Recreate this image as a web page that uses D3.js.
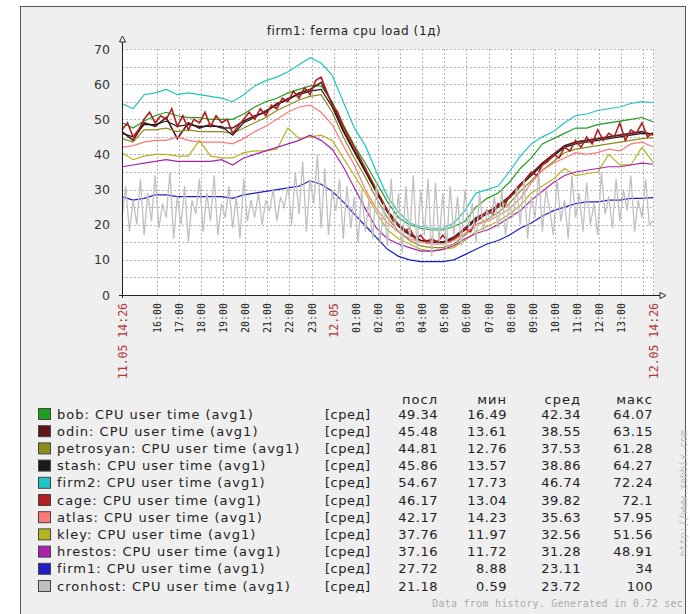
<!DOCTYPE html>
<html>
<head>
<meta charset="utf-8">
<script src="https://cdn.jsdelivr.net/npm/d3@7"></script>
<style>
  body { margin: 0; background: #fff; }
  svg { display: block; }
</style>
</head>
<body>
<svg id="chart" width="690" height="614"></svg>
<script>
// --- data, 11.05 14:26 .. 12.05 14:26 ---
const hosts = ["bob", "odin", "petrosyan", "stash", "firm2", "cage", "atlas", "kley", "hrestos", "firm1", "cronhost"];
const colors = ["#1e9e1e", "#5c1616", "#8c8c1c", "#1a1a1a", "#1ec4c4", "#b41e1e", "#ff7878", "#b4b41e", "#aa22aa", "#1e1ec8", "#c0c0c0"];
const lastVals = ["49.34", "45.48", "44.81", "45.86", "54.67", "46.17", "42.17", "37.76", "37.16", "27.72", "21.18"];
const minVals  = ["16.49", "13.61", "12.76", "13.57", "17.73", "13.04", "14.23", "11.97", "11.72", "8.88", "0.59"];
const avgVals  = ["42.34", "38.55", "37.53", "38.86", "46.74", "39.82", "35.63", "32.56", "31.28", "23.11", "23.72"];
const maxVals  = ["64.07", "63.15", "61.28", "64.27", "72.24", "72.1", "57.95", "51.56", "48.91", "34", "100"];
const yTicks = [0, 10, 20, 30, 40, 50, 60, 70];

// every 30 min
const bob = [49, 47.5, 49.5, 51, 52, 51, 50.5, 50.5, 50, 50, 50, 51.5, 53.5,
  55, 56, 57.5, 58.5, 59.5, 59.5, 55, 48.5, 42.5, 37.5, 32, 26.5,
  22, 20, 19, 18.5, 18.5, 19.5, 21, 25, 27.5, 29, 32, 36,
  39, 43, 44.5, 46, 47.5, 47.5, 48.5, 49, 49.5, 50, 50.5, 49.3];
const odin = [46.5, 44, 49, 48, 50.5, 44.5, 49, 47.5, 48.5, 47.5, 47.5, 49.5, 51,
  52, 54.5, 55.5, 57.5, 58.5, 60.5, 54.5, 47, 41, 35.5, 29.5, 24,
  20, 17.5, 15.5, 15.5, 15, 16.5, 19, 22, 23.5, 25.5, 28, 31.5,
  34.5, 37.5, 40, 42.5, 43.5, 44, 44.5, 45, 45.5, 46, 46.5, 45.5];
const petrosyan = [44.5, 43.5, 47, 47, 47.5, 46.5, 47, 46.5, 46.5, 46.5, 46, 47.5, 49,
  50.5, 52.5, 54, 55.5, 56.5, 57, 52, 45, 39, 33.5, 27.5, 22,
  18, 15.5, 14, 13.5, 13.5, 14.5, 17, 20, 21.5, 23.5, 26, 29.5,
  32.5, 35.5, 38, 40.5, 41.5, 42, 42.5, 43, 43.5, 44, 44.5, 44.8];
const stash = [46, 45, 48.5, 48.5, 49.5, 48, 48.5, 48, 48, 48, 45.5, 49, 50.5,
  52.5, 54, 56, 57, 58, 58.5, 53.5, 46.5, 40.7, 35, 29.2, 23.5,
  19.5, 17, 15.5, 15, 15, 16, 18.5, 21.5, 23, 25, 27.5, 31,
  34, 37, 39.5, 42, 43, 43.5, 44, 44.5, 45, 45.5, 46, 45.9];
const firm2 = [54.5, 53, 57, 57.5, 58.5, 57, 57.5, 57, 56.5, 56, 55, 57, 59.5,
  61, 62, 63.5, 65.5, 67.5, 66, 62.5, 55, 47.5, 42.5, 35, 28,
  23.5, 20.5, 19.5, 19, 19, 20.5, 24, 29, 30, 31, 35, 39.5,
  43, 45, 46.5, 49, 51, 51.5, 52.5, 53, 53.5, 54.5, 55, 54.7];
const atlas = [42, 42.5, 43.5, 44, 44, 45, 44, 43.5, 43.5, 43.5, 43, 44.5, 46.5,
  48, 50, 52, 53.5, 54, 52, 48.5, 42.5, 37, 30, 24.5, 20.5,
  18, 16, 15, 14.5, 14.5, 15.5, 17.5, 20, 21, 22.5, 24.5, 27.5,
  32, 35.5, 37.5, 39, 40.5, 40, 40.5, 41.5, 41, 43, 43.5, 42.2];
const kley = [40.5, 38.5, 39.5, 40, 40, 39.5, 39.5, 44, 39.5, 39, 39, 40.5, 41,
  41, 41.5, 47.5, 44.5, 45, 45.5, 44, 39, 34, 29, 23.5, 18.5,
  16, 14.5, 13, 12.5, 13, 13.5, 15.5, 18, 19.5, 21, 23, 25.5,
  29, 31, 33, 36, 34, 34.5, 35, 40, 37, 37, 42, 37.8];
const hrestos = [36.5, 37, 37.5, 38, 38.5, 38, 38, 38, 38, 38.5, 37, 39, 40,
  41, 42, 43, 44, 45.5, 44, 41.5, 36.5, 30.5, 24.5, 19, 16,
  14.5, 13.5, 12.5, 12.5, 13, 14, 16, 17.5, 18.5, 20, 22, 24,
  27, 29.5, 32, 34, 35, 35.5, 36, 36.5, 36.5, 37, 37.5, 37.2];
const firm1 = [28, 27, 27.5, 28.5, 28.5, 28, 28, 28, 28, 28, 27.5, 28.5, 29,
  29.5, 30, 30.5, 31, 32.5, 31.5, 29.5, 26.5, 23, 19.7, 16.3, 13,
  11, 10, 9.5, 9.5, 9.5, 10, 11.5, 13, 14.5, 15.5, 17, 19,
  20.5, 22.5, 24, 25, 26, 26.5, 26.5, 27, 27, 27.5, 27.5, 27.7];
// cage is spikier, every 15 min
const cage = [47, 49, 45, 47, 50, 52, 49, 51, 50, 53, 48, 51, 47, 50, 49, 52, 48, 51, 49, 50, 46, 48, 50, 52, 50,
  53, 51, 54, 53, 56, 55, 58, 56, 59, 57, 61, 62, 58, 54, 52, 48, 45, 42, 39, 36, 33, 30, 27, 24,
  21, 20, 18, 19, 16, 17, 15, 16, 15, 17, 15, 16, 17, 19, 18, 21, 22, 24, 23, 26, 25, 28, 29, 31,
  33, 35, 34, 37, 38, 40, 39, 42, 41, 44, 42, 45, 43, 47, 44, 46, 45, 49, 44, 47, 46, 49, 45, 46.2];
// cronhost jumps all the time, every 10 min
const cronhost = [
  22, 31, 18, 27, 20, 33,  17, 29, 21, 34, 19, 26,  22, 35, 16, 28, 20, 31,
  15, 27, 23, 33, 18, 29,  21, 34, 17, 26, 22, 31,  19, 28, 16, 33, 21, 27,
  22, 29, 20, 27, 24, 30,  21, 28, 25, 31, 20, 35,  23, 38, 18, 33, 26, 40,
  19, 36, 17, 30, 24, 33,  16, 31, 19, 28, 15, 30,  18, 27, 16, 32, 15, 26,
  14, 33, 18, 29, 12, 31,  16, 34, 13, 30, 17, 33,  11, 32, 15, 29, 13, 31,
  17, 28, 14, 30, 19, 26,  15, 29, 18, 24, 21, 28,  19, 30, 17, 26, 22, 31,
  20, 33, 16, 28, 22, 35,  18, 30, 24, 17, 33, 21,  27, 16, 34, 22, 29, 18,
  32, 20, 26, 17, 35, 23,  28, 19, 33, 21, 30, 24,  34, 18, 27, 22, 33, 20,
  21.2];

const allSeries = [bob, odin, petrosyan, stash, firm2, cage, atlas, kley, hrestos, firm1, cronhost];

// --- layout ---
const margin = { top: 49, left: 122, right: 653, bottom: 295 };
const t0 = Date.UTC(2020, 4, 11, 14, 26);
const t1 = Date.UTC(2020, 4, 12, 14, 26);
const sans = "DejaVu Sans, Verdana, sans-serif";
const mono = "DejaVu Sans Mono, monospace";

const svg = d3.select("#chart");

// frame
svg.append("rect").attr("x", 20.5).attr("y", 6.5).attr("width", 665).attr("height", 620)
  .attr("fill", "#efefef").attr("stroke", "#555");

svg.append("rect").attr("x", margin.left).attr("y", margin.top)
  .attr("width", margin.right - margin.left + 1).attr("height", margin.bottom - margin.top)
  .attr("fill", "#fff");

const x = d3.scaleUtc().domain([t0, t1]).range([margin.left, margin.right]);
const y = d3.scaleLinear().domain([0, 70]).range([margin.bottom, margin.top]);

// grid
const grid = svg.append("g").attr("stroke", "#b4b4b4").attr("stroke-dasharray", "2,2")
  .attr("shape-rendering", "crispEdges");
grid.selectAll(".hg").data(d3.range(5, 71, 5)).join("line")
  .attr("x1", margin.left).attr("x2", margin.right)
  .attr("y1", d => Math.round(y(d)) + 0.5).attr("y2", d => Math.round(y(d)) + 0.5);

const hours = d3.utcHour.range(new Date(Date.UTC(2020, 4, 11, 16)), new Date(Date.UTC(2020, 4, 12, 14, 30)));
grid.selectAll(".vg").data(hours.concat([new Date(t1)])).join("line")
  .attr("y1", margin.top).attr("y2", margin.bottom)
  .attr("x1", d => Math.round(x(d)) + 0.5).attr("x2", d => Math.round(x(d)) + 0.5);

// series: sample times follow from how many readings a series has
const table = hosts.map((h, i) => {
  const vals = allSeries[i];
  const step = (t1 - t0) / (vals.length - 1);
  return {
    name: h,
    color: colors[i],
    values: vals.map((v, j) => ({ t: new Date(t0 + j * step), v: v }))
  };
});

const line = d3.line().x(d => x(d.t)).y(d => y(d.v));
svg.append("g").attr("fill", "none").selectAll("path").data(table).join("path")
  .attr("stroke", d => d.color)
  .attr("stroke-width", d => (d.name === "cage" || d.name === "odin") ? 1.6 : d.name === "cronhost" ? 1.3 : 1.2)
  .attr("d", d => line(d.values));

// axes
const yAxis = svg.append("g").attr("transform", `translate(${margin.left},0)`)
  .call(d3.axisLeft(y).tickValues(yTicks).tickSize(0).tickPadding(12));
yAxis.select(".domain").remove();
yAxis.selectAll("text").attr("font-family", sans).attr("font-size", 12.5).attr("fill", "#333");

const isEdge = d => +d === t0 || +d === t1;
const isRed = d => isEdge(d) || d.getUTCHours() === 0;
const fmtTick = d => {
  if (isEdge(d)) return d3.utcFormat("%d.%m %H:%M")(d);
  if (d.getUTCHours() === 0) return d3.utcFormat("%d.%m")(d);
  return d3.utcFormat("%H:%M")(d);
};
const labelTimes = [new Date(t0)].concat(hours.filter(d => d.getUTCHours() !== 14), [new Date(t1)]);
const xAxis = svg.append("g").attr("transform", `translate(0,${margin.bottom})`)
  .call(d3.axisBottom(x).tickValues(labelTimes).tickFormat(fmtTick).tickSize(0));
xAxis.select(".domain").remove();
xAxis.selectAll("text")
  .attr("font-family", mono)
  .attr("font-size", d => isRed(d) ? 11.5 : 10)
  .attr("fill", d => isRed(d) ? "#b03a3a" : "#222")
  .attr("text-anchor", "end")
  .attr("dy", "0.35em")
  .attr("transform", "translate(0,8) rotate(-90)")
  .attr("y", 0).attr("x", 0);

// axis lines with arrows
svg.append("line").attr("x1", margin.left + 0.5).attr("x2", margin.left + 0.5)
  .attr("y1", margin.bottom + 3).attr("y2", 40).attr("stroke", "#222");
svg.append("line").attr("x1", margin.left - 3).attr("x2", 661)
  .attr("y1", margin.bottom + 0.5).attr("y2", margin.bottom + 0.5).attr("stroke", "#222");
svg.append("path").attr("d", `M${margin.left + 0.5},36 l-3,6 h6 z`).attr("fill", "#fff").attr("stroke", "#222");
svg.append("path").attr("d", `M666,${margin.bottom + 0.5} l-6,-3 v6 z`).attr("fill", "#fff").attr("stroke", "#222");

// title
svg.append("text").attr("x", 354).attr("y", 35).attr("text-anchor", "middle")
  .attr("font-family", sans).attr("font-size", 12).attr("letter-spacing", 0.6).attr("fill", "#222")
  .text("firm1: ferma cpu load  (1д)");

// legend
const rowY = i => 414 + i * 17.2;
const legend = svg.append("g").attr("font-family", sans).attr("font-size", 13).attr("fill", "#222");
const colX = [438, 507, 581, 653];
["посл", "мин", "сред", "макс"].forEach((h, i) => {
  legend.append("text").attr("x", colX[i]).attr("y", 399).attr("dy", "0.35em")
    .attr("text-anchor", "end").attr("letter-spacing", 1).text(h);
});
const rows = legend.selectAll(".row").data(table).join("g")
  .attr("transform", (d, i) => `translate(0,${rowY(i)})`);
rows.append("rect").attr("x", 38.5).attr("y", -5.5).attr("width", 12).attr("height", 11)
  .attr("fill", d => d.color).attr("stroke", "#444");
rows.append("text").attr("x", 57).attr("dy", "0.35em").attr("letter-spacing", 1)
  .text(d => d.name + ": CPU user time (avg1)");
rows.append("text").attr("x", 325).attr("dy", "0.35em").attr("letter-spacing", 0.5).text("[сред]");
[lastVals, minVals, avgVals, maxVals].forEach((col, c) => {
  rows.append("text").attr("x", colX[c]).attr("dy", "0.35em").attr("text-anchor", "end")
    .attr("letter-spacing", 0.5).text((d, i) => col[i]);
});

// footer
svg.append("text").attr("x", 683).attr("y", 607).attr("text-anchor", "end")
  .attr("font-family", mono).attr("font-size", 10).attr("letter-spacing", 0.25).attr("fill", "#aaa")
  .text("Data from history. Generated in 0.72 sec");
svg.append("text").attr("transform", "translate(683,430) rotate(-90)").attr("text-anchor", "end")
  .attr("dy", "0.35em").attr("font-family", mono).attr("font-size", 10).attr("fill", "#bbb")
  .text("http://www.zabbix.com");
</script>
</body>
</html>
